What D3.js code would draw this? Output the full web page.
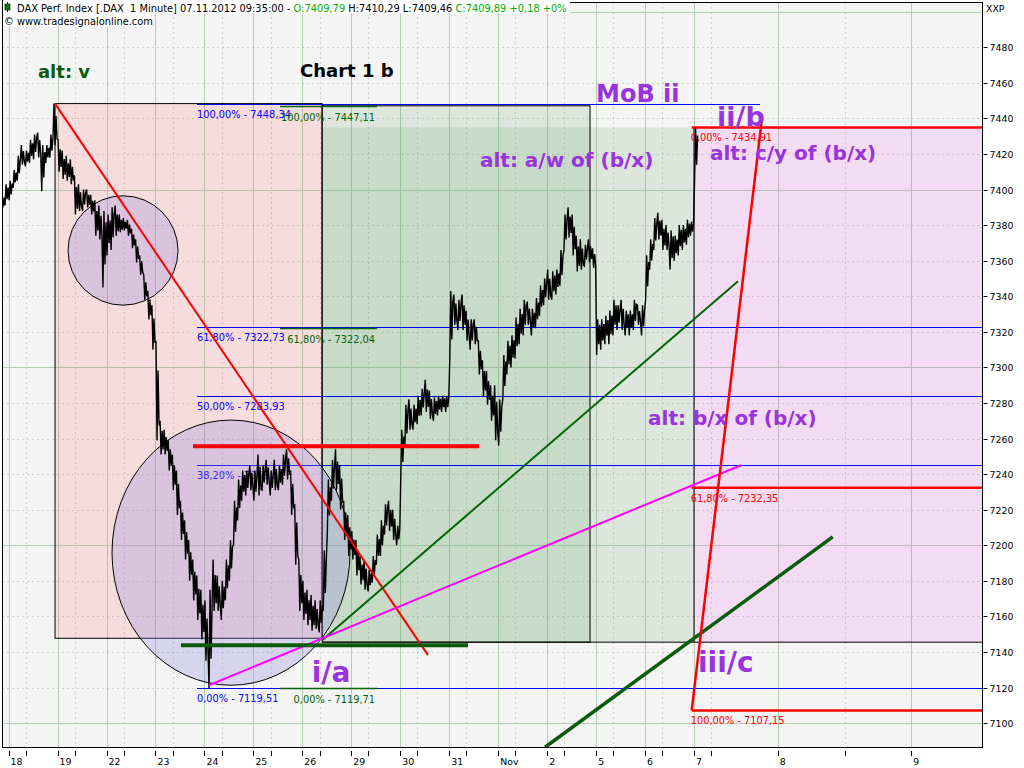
<!DOCTYPE html>
<html><head><meta charset="utf-8">
<script src="https://cdn.jsdelivr.net/npm/d3@7"></script>
<style>body{margin:0;background:#fff}svg{display:block}</style>
</head><body><svg id="c" width="1024" height="768"></svg>
<script>
// ---------- DATA ----------
const dayLabels = ["18","19","22","23","24","25","26","29","30","31","Nov","2","5","6","7","8","9"];
const minorTicks = [0.35,1.35,2.35,3.35,4.35,5.35,6.35,7.35,8.35,9.35,10.35,11.35,12.35,13.35,14.35,15.5];
const priceTicks = d3.range(7100, 7481, 20);
const gridMajor = [7100,7200,7300,7400,7500];
const barsPerDay = 12;
// [high, low] per ~42-minute block
const oct17 = [[7397,7387],[7403,7391]];
const oct18 = [[7405,7394],[7411,7401],[7419,7405],[7425,7414],[7422,7413],[7428,7415],[7431,7417],[7432,7418],[7425,7399],[7425,7415],[7431,7418],[7448.34,7425]];
const oct19 = [[7428,7410],[7422,7406],[7419,7405],[7417,7403],[7408,7386],[7403,7388],[7400,7388],[7400,7390],[7397,7386],[7394,7374],[7391,7372],[7388,7345]];
const oct22 = [[7386,7363],[7390,7366],[7391,7374],[7386,7376],[7384,7377],[7383,7374],[7378,7367],[7372,7359],[7363,7352],[7352,7338],[7343,7327],[7335,7310]];
const oct23 = [[7315,7259],[7270,7251],[7265,7251],[7259,7242],[7251,7231],[7242,7217],[7225,7203],[7214,7192],[7203,7180],[7192,7169],[7183,7158],[7175,7147]];
const oct24 = [[7169,7135],[7175,7119.51],[7192,7163],[7183,7163],[7180,7158],[7192,7169],[7203,7180],[7225,7200],[7237,7214],[7242,7225],[7242,7228],[7245,7231]];
const oct25 = [[7242,7225],[7251,7228],[7245,7231],[7248,7234],[7242,7228],[7248,7231],[7245,7231],[7251,7234],[7254,7237],[7242,7217],[7223,7189],[7192,7163]];
const oct26 = [[7180,7158],[7175,7155],[7172,7152],[7169,7153],[7169,7151],[7197,7163],[7237,7208],[7248,7225],[7254,7231],[7245,7220],[7225,7203],[7217,7194]];
const oct29 = [[7208,7192],[7203,7183],[7194,7178],[7192,7175],[7186,7174],[7194,7179],[7206,7189],[7214,7194],[7223,7206],[7225,7208],[7220,7203],[7211,7200]];
const oct30 = [[7265,7239],[7279,7256],[7282,7265],[7279,7265],[7284,7268],[7288,7273],[7293,7275],[7287,7271],[7283,7270],[7284,7273],[7284,7275],[7284,7275]];
const oct31 = [[7343,7304],[7341,7324],[7338,7321],[7341,7321],[7332,7315],[7327,7310],[7327,7313],[7315,7296],[7304,7284],[7298,7279],[7290,7270],[7290,7259]];
const nov1  = [[7282,7256],[7307,7282],[7315,7296],[7318,7300],[7328,7305],[7333,7313],[7338,7318],[7337,7324],[7333,7318],[7339,7322],[7346,7329],[7350,7335]];
const nov2  = [[7355,7338],[7354,7338],[7355,7341],[7366,7346],[7386,7366],[7390,7373],[7386,7363],[7374,7354],[7372,7355],[7369,7357],[7372,7359],[7367,7356]];
const nov5  = [[7327,7307],[7327,7310],[7329,7313],[7332,7313],[7338,7318],[7335,7321],[7338,7321],[7332,7318],[7332,7318],[7338,7321],[7335,7324],[7335,7318]];
const nov6  = [[7363,7338],[7372,7355],[7384,7366],[7387,7372],[7383,7366],[7380,7366],[7377,7355],[7374,7360],[7380,7363],[7380,7366],[7383,7369],[7382,7374]];
const nov7  = [[7434.91,7405]];
const sessions = [oct17,oct18,oct19,oct22,oct23,oct24,oct25,oct26,oct29,oct30,oct31,nov1,nov2,nov5,nov6,nov7];
const sessionStart = [-1+10/12,0,1,2,3,4,5,6,7,8,9,10,11,12,13,14];

// Fibonacci retracements
const blueFib = {hi:7448.34, lo:7119.51, levels:[1,0.618,0.5,0.382,0], t0:3.848};
const greenFib = {hi:7447.11, lo:7119.71, levels:[1,0.618,0], t0:5.543, t1:7.524};
const redFib = {zero:7434.91, full:7107.15, levels:[0,0.618,1], t0:13.952};

// boxes [t0,t1,vTop,vBottom]
const pinkBox = [0.948, 6.403, 7448.34, 7147.7];
const greenBox = [6.403, 11.875, 7447.11, 7145.5];
const greenBox2 = [6.403, 13.999, 7434.91, 7145.5];
const magentaBox = [13.999, 17, 7434.91, 7145.5];
// ellipses bounding boxes [t0,t1,vTop,vBottom]
const ellipses = [[1.214, 3.460, 7396.5, 7335.0],[2.112, 6.973, 7270.4, 7121.3]];
// trend lines [t0,v0,t1,v1]
const redDiag = [0.948, 7448.34, 8.566, 7138.2];
const redSteep = [13.952, 7107.15, 14.842, 7438.0];
const greenTrend = [6.403, 7146.6, 14.612, 7348.5];
const magentaTrend = [4.093, 7121.3, 14.641, 7245.0];
const greenChannel = [10.956, 7086.4, 15.412, 7204.7];
const redLevel = [3.766, 9.607, 7255.7];
const greenLevel = [3.521, 9.383, 7143.8];
// annotations [text, t, v, size, color]
const notes = [
  ["MoB ii", 11.998, 7449.2, 24, "#9933dd"],
  ["ii/b", 14.407, 7435.7, 27, "#9933dd"],
  ["alt: c/y of (b/x)", 14.326, 7416.6, 20, "#9933dd"],
  ["alt: a/w of (b/x)", 9.628, 7412.7, 20, "#9933dd"],
  ["alt: b/x of (b/x)", 13.06, 7267.5, 20, "#9933dd"],
  ["iii/c", 14.081, 7128.6, 28, "#9933dd"],
  ["i/a", 6.191, 7123.0, 28, "#9933dd"],
  ["alt: v", 0.6, 7462.7, 18, "#0b5a0b"],
  ["Chart 1 b", 5.952, 7463.3, 18, "#000000"]
];
const headerParts = [
  ["DAX Perf. Index [.DAX  1 Minute] 07.11.2012 09:35:00 - ", "#000"],
  ["O:7409,79 ", "#00b000"],
  ["H:7410,29 ", "#000"],
  ["L:7409,46 ", "#000"],
  ["C:7409,89 +0,18 +0%", "#00b000"]
];

// ---------- LAYOUT ----------
const L = 2.5, R = 982.5, T = 2.5, B = 747.5;
const svg = d3.select("#c");
const x = d3.scaleLinear().domain([0, 14.35, 15, 16]).range([8.6, 711.2, 777.7, 911.3]);
const y = d3.scaleLinear().domain([7100, 7480]).range([723.1, 47.3]);
const FONT = "'DejaVu Sans', Verdana, sans-serif";

svg.append("rect").attr("width",1024).attr("height",768).attr("fill","#fff");
svg.append("defs").append("clipPath").attr("id","plot").append("rect")
  .attr("x",L).attr("y",T).attr("width",R-L).attr("height",B-T);
svg.append("rect").attr("x",L).attr("y",T).attr("width",R-L).attr("height",B-T).attr("fill","#f4f4f4");

const g = svg.append("g").attr("clip-path","url(#plot)");

// grid
const grid = g.append("g");
grid.selectAll(".vmaj").data(d3.range(0, dayLabels.length)).join("line")
  .attr("x1",d=>Math.round(x(d))+0.5).attr("x2",d=>Math.round(x(d))+0.5).attr("y1",T).attr("y2",B)
  .attr("stroke","#b4ccb4");
grid.selectAll(".vmin").data(minorTicks).join("line")
  .attr("x1",d=>Math.round(x(d))+0.5).attr("x2",d=>Math.round(x(d))+0.5).attr("y1",T).attr("y2",B)
  .attr("stroke","#b0b0b0").attr("stroke-dasharray","1,4");
const hTicks = d3.range(7100, 7501, 20);
grid.selectAll(".h").data(hTicks).join("line")
  .attr("x1",L).attr("x2",R).attr("y1",d=>Math.round(y(d))+0.5).attr("y2",d=>Math.round(y(d))+0.5)
  .attr("stroke",d=>gridMajor.includes(d)?"#b4ccb4":"#b0b0b0")
  .attr("stroke-dasharray",d=>gridMajor.includes(d)?null:"1,4");

function boxRect(b, fill){
  return g.append("rect").attr("x",x(b[0])).attr("y",y(b[2]))
    .attr("width",x(b[1])-x(b[0])).attr("height",y(b[3])-y(b[2])).attr("fill",fill);
}
boxRect(pinkBox, "rgba(255,100,100,0.17)");
boxRect(greenBox, "rgba(100,160,100,0.17)");
boxRect(greenBox2, "rgba(100,160,100,0.17)");
boxRect(magentaBox, "rgba(240,100,240,0.17)");
boxRect(pinkBox, "none").attr("stroke","#000");
boxRect(greenBox, "none").attr("stroke","#000");
g.append("line").attr("x1",x(greenBox2[0])).attr("x2",R).attr("y1",y(greenBox2[3])).attr("y2",y(greenBox2[3])).attr("stroke","#000");
g.append("line").attr("x1",x(magentaBox[0])).attr("x2",x(magentaBox[0])).attr("y1",y(magentaBox[2])).attr("y2",y(magentaBox[3])).attr("stroke","#000");

const fmt = v => d3.format(".2f")(v).replace(".", ",");
const pct = l => d3.format(".2f")(l*100).replace(".", ",") + "%";

// blue fib
blueFib.levels.forEach(l => {
  const v = blueFib.lo + (blueFib.hi - blueFib.lo) * l;
  const yy = Math.round(y(v)) + 0.5;
  g.append("line").attr("x1",x(blueFib.t0)).attr("x2",l===1?x(14.827):R).attr("y1",yy).attr("y2",yy).attr("stroke","#0000ff");
  g.append("text").attr("x",x(blueFib.t0)).attr("y",yy+13).attr("fill","#0000ff")
    .attr("font-family",FONT).attr("font-size",9.8).text(pct(l)+" - "+fmt(v));
});
// green fib
greenFib.levels.forEach(l => {
  const v = greenFib.lo + (greenFib.hi - greenFib.lo) * l;
  const yy = Math.round(y(v)) + 0.5;
  g.append("line").attr("x1",x(greenFib.t0)).attr("x2",x(greenFib.t1)).attr("y1",yy).attr("y2",yy).attr("stroke","#006400").attr("stroke-width",1.5);
  g.append("text").attr("x",x(greenFib.t1)-2).attr("y",yy+14).attr("fill","#006400").attr("text-anchor","end")
    .attr("font-family",FONT).attr("font-size",9.8).text(pct(l)+" - "+fmt(v));
});
// red fib
redFib.levels.forEach(l => {
  const v = redFib.zero - (redFib.zero - redFib.full) * l;
  const yy = y(v);
  g.append("line").attr("x1",x(redFib.t0)).attr("x2",R).attr("y1",yy).attr("y2",yy).attr("stroke","#ff0000").attr("stroke-width",2.5);
  g.append("text").attr("x",x(redFib.t0)-1).attr("y",yy+14).attr("fill","#ff0000")
    .attr("font-family",FONT).attr("font-size",9.8).text(pct(l)+" - "+fmt(v));
});

// ellipses
g.selectAll(".ell").data(ellipses).join("ellipse")
  .attr("cx",d=>(x(d[0])+x(d[1]))/2).attr("cy",d=>(y(d[2])+y(d[3]))/2)
  .attr("rx",d=>(x(d[1])-x(d[0]))/2).attr("ry",d=>(y(d[3])-y(d[2]))/2)
  .attr("fill","rgba(150,140,225,0.3)").attr("stroke","#000").attr("stroke-width",1);

// price: each block drawn as a zig-zag between its high and low
const bars = [];
sessions.forEach((s,i) => s.forEach((b,k) => bars.push({t: sessionStart[i] + k/barsPerDay, hi:b[0], lo:b[1]})));
const pts = [];
bars.forEach((b,i) => {
  const nxt = bars[i+1] || b;
  const up = (nxt.hi + nxt.lo) >= (b.hi + b.lo);
  const seq = up ? [b.lo, b.hi, b.lo + (b.hi-b.lo)*0.3, b.hi - (b.hi-b.lo)*0.15] : [b.hi, b.lo, b.hi - (b.hi-b.lo)*0.3, b.lo + (b.hi-b.lo)*0.15];
  seq.forEach((v,j) => pts.push([b.t + (j+0.5)/(4*barsPerDay), v]));
});
const line = d3.line().x(d=>x(d[0])).y(d=>y(d[1]));
g.append("path").datum(pts).attr("d",line).attr("fill","none").attr("stroke","#000").attr("stroke-width",1.4).attr("stroke-linejoin","miter");

// trend lines
function seg(a, color, w){
  g.append("line").attr("x1",x(a[0])).attr("y1",y(a[1])).attr("x2",x(a[2])).attr("y2",y(a[3]))
    .attr("stroke",color).attr("stroke-width",w);
}
seg(redDiag, "#ff0000", 2);
seg(greenTrend, "#006400", 2);
seg(magentaTrend, "#ff00ff", 2);
seg(greenChannel, "#0b5a0b", 3.5);
seg(redSteep, "#ff0000", 2.5);
g.append("line").attr("x1",x(redLevel[0])).attr("x2",x(redLevel[1])).attr("y1",y(redLevel[2])).attr("y2",y(redLevel[2])).attr("stroke","#ff0000").attr("stroke-width",4);
g.append("line").attr("x1",x(greenLevel[0])).attr("x2",x(greenLevel[1])).attr("y1",y(greenLevel[2])).attr("y2",y(greenLevel[2])).attr("stroke","#0b5a0b").attr("stroke-width",4);

// annotations
g.selectAll(".note").data(notes).join("text")
  .attr("x",d=>x(d[1])).attr("y",d=>y(d[2])).attr("font-size",d=>d[3]).attr("fill",d=>d[4])
  .attr("font-family",FONT).attr("font-weight","bold").text(d=>d[0]);

// frame
svg.append("rect").attr("x",L).attr("y",T).attr("width",R-L).attr("height",B-T).attr("fill","none").attr("stroke","#000");

// right axis
const ra = svg.append("g");
ra.selectAll("line").data(priceTicks).join("line")
  .attr("x1",R+1).attr("x2",R+5).attr("y1",d=>Math.round(y(d))+0.5).attr("y2",d=>Math.round(y(d))+0.5).attr("stroke","#000");
ra.selectAll("text").data(priceTicks).join("text")
  .attr("x",R+7).attr("y",d=>y(d)+4).attr("font-family",FONT).attr("font-size",9.4).attr("fill","#000").text(d=>d);
svg.append("text").attr("x",986).attr("y",12).attr("font-family",FONT).attr("font-size",9.4).text("XXP");

// bottom axis
const ba = svg.append("g");
ba.selectAll(".mj").data(d3.range(0, dayLabels.length)).join("line")
  .attr("x1",d=>Math.round(x(d))+0.5).attr("x2",d=>Math.round(x(d))+0.5).attr("y1",751).attr("y2",756).attr("stroke","#000");
ba.selectAll(".mn").data(minorTicks).join("line")
  .attr("x1",d=>Math.round(x(d))+0.5).attr("x2",d=>Math.round(x(d))+0.5).attr("y1",751).attr("y2",756).attr("stroke","#000");
ba.selectAll("text").data(dayLabels).join("text")
  .attr("x",(d,i)=>x(i)+2).attr("y",765).attr("font-family",FONT).attr("font-size",9.4).text(d=>d);

// header
svg.append("rect").attr("x",0).attr("y",0).attr("width",570).attr("height",13.5).attr("fill","#fff");
svg.append("rect").attr("x",0).attr("y",13.5).attr("width",150).attr("height",13).attr("fill","#fff");
svg.append("line").attr("x1",2.5).attr("x2",2.5).attr("y1",0).attr("y2",27).attr("stroke","#000");
svg.append("line").attr("x1",7.5).attr("x2",7.5).attr("y1",2).attr("y2",12).attr("stroke","#000");
svg.append("rect").attr("x",5).attr("y",4).attr("width",5).attr("height",6).attr("fill","#008000").attr("stroke","#000").attr("stroke-width",0.6);
const ht = svg.append("text").attr("x",17).attr("y",11.5).attr("font-family",FONT).attr("font-size",9.85).attr("xml:space","preserve");
headerParts.forEach(p => ht.append("tspan").attr("fill",p[1]).text(p[0]));
svg.append("text").attr("x",4).attr("y",24.5).attr("font-family",FONT).attr("font-size",9.85).text("© www.tradesignalonline.com");
</script></body></html>
